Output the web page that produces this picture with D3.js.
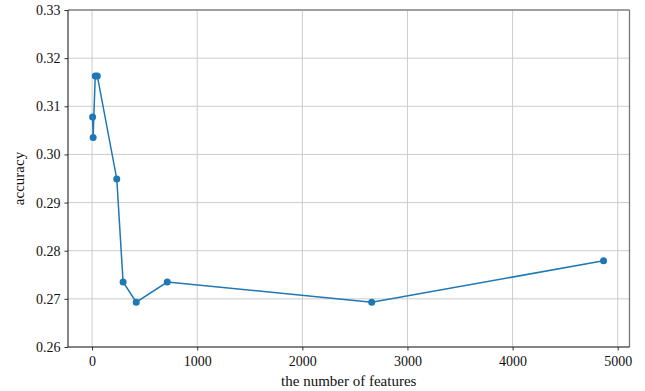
<!DOCTYPE html>
<html><head><meta charset="utf-8">
<script src="https://cdn.jsdelivr.net/npm/d3@7"></script>
<style>body{margin:0;background:#fff}svg{display:block}text{font-family:"Liberation Serif","Times New Roman",Times,"DejaVu Serif",serif}</style>
</head><body>
<svg id="c" width="645" height="391"></svg>
<script>
const features = [5, 10, 30, 50, 235, 295, 420, 715, 2660, 4865];
const accuracy = [0.3078, 0.3035, 0.3163, 0.3163, 0.2949, 0.2735, 0.2693, 0.2735, 0.2693, 0.2779];
const xTicks = [0, 1000, 2000, 3000, 4000, 5000];
const yTicks = [0.26, 0.27, 0.28, 0.29, 0.30, 0.31, 0.32, 0.33];

const W = 645, H = 391;
const m = {l: 68, r: 15.5, t: 10, b: 44};
const svg = d3.select("#c");
const x = d3.scaleLinear().domain([-229, 5112]).range([m.l, W - m.r]);
const y = d3.scaleLinear().domain([0.26, 0.33]).range([H - m.b, m.t]);
const font = '"Liberation Serif", "Times New Roman", Times, "DejaVu Serif", serif';

// grid
svg.append("g").selectAll("line").data(xTicks).join("line")
  .attr("x1", d => x(d)).attr("x2", d => x(d)).attr("y1", m.t).attr("y2", H - m.b)
  .attr("stroke", "#cccccc").attr("stroke-width", 1);
svg.append("g").selectAll("line").data(yTicks).join("line")
  .attr("x1", m.l).attr("x2", W - m.r).attr("y1", d => y(d)).attr("y2", d => y(d))
  .attr("stroke", "#cccccc").attr("stroke-width", 1);

// axes
const xa = svg.append("g").attr("transform", `translate(0,${H - m.b})`)
  .call(d3.axisBottom(x).tickValues(xTicks).tickFormat(d3.format("d")).tickSize(3.5).tickPadding(6));
const ya = svg.append("g").attr("transform", `translate(${m.l},0)`)
  .call(d3.axisLeft(y).tickValues(yTicks).tickFormat(d3.format(".2f")).tickSize(3.5).tickPadding(4));
[xa, ya].forEach(a => {
  a.attr("font-family", null).attr("font-size", null);
  a.select(".domain").remove();
  a.selectAll(".tick line").attr("stroke", "#333");
  a.selectAll("text").style("font-family", font).style("font-size", "14px").attr("fill", "#111");
});

// spines
svg.append("line").attr("x1", m.l).attr("x2", W - m.r).attr("y1", m.t).attr("y2", m.t).attr("stroke", "#888").attr("stroke-width", 1.3);
svg.append("line").attr("x1", W - m.r).attr("x2", W - m.r).attr("y1", m.t).attr("y2", H - m.b).attr("stroke", "#777").attr("stroke-width", 1.3);
svg.append("line").attr("x1", m.l).attr("x2", m.l).attr("y1", m.t).attr("y2", H - m.b).attr("stroke", "#222").attr("stroke-width", 1.1);
svg.append("line").attr("x1", m.l).attr("x2", W - m.r).attr("y1", H - m.b).attr("y2", H - m.b).attr("stroke", "#222").attr("stroke-width", 1.1);

// data
const pts = features.map((f, i) => [f, accuracy[i]]);
svg.append("path").datum(pts)
  .attr("d", d3.line().x(d => x(d[0])).y(d => y(d[1])))
  .attr("fill", "none").attr("stroke", "#1f77b4").attr("stroke-width", 1.5);
svg.append("g").selectAll("circle").data(pts).join("circle")
  .attr("cx", d => x(d[0])).attr("cy", d => y(d[1])).attr("r", 3.5).attr("fill", "#1f77b4");

// labels
svg.append("text").attr("x", (m.l + W - m.r) / 2).attr("y", 386).attr("text-anchor", "middle")
  .style("font-family", font).style("font-size", "15px").attr("fill", "#111").text("the number of features");
svg.append("text").attr("transform", `translate(24,${(m.t + H - m.b) / 2}) rotate(-90)`).attr("text-anchor", "middle")
  .style("font-family", font).style("font-size", "15px").attr("fill", "#111").text("accuracy");
</script>
</body></html>
